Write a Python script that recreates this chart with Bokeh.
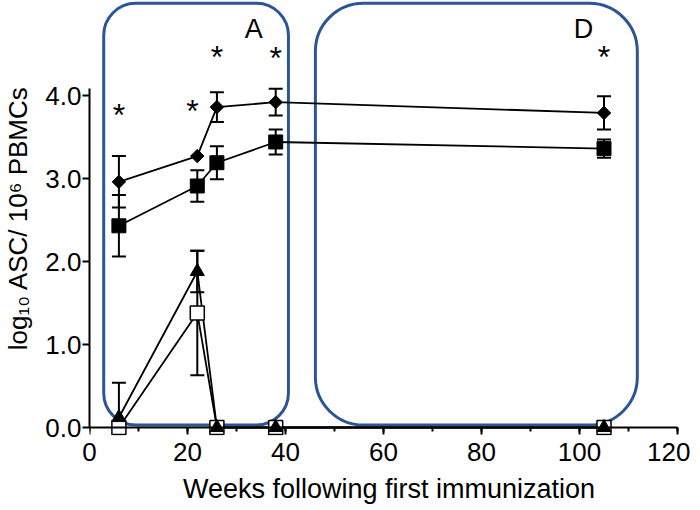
import math
from bokeh.plotting import figure
from bokeh.models import (ColumnDataSource, Whisker, TeeHead, BoxAnnotation,
                          SingleIntervalTicker, NumeralTickFormatter, Range1d,
                          LinearAxis, CustomLabelingPolicy)
from bokeh.core.properties import value
from bokeh.embed import file_html
from bokeh.resources import INLINE

# ---------------- data ----------------
weeks = [6, 22, 26, 38, 105]
diamond_y = [2.96, 3.27, 3.86, 3.92, 3.79]
diamond_err = [0.31, 0.0, 0.18, 0.16, 0.20]
fsquare_y = [2.43, 2.91, 3.19, 3.44, 3.36]
fsquare_err = [0.37, 0.19, 0.20, 0.15, 0.11]
triangle_y = [0.12, 1.88, 0.0, 0.0, 0.0]
triangle_err = [0.42, 0.25, 0.0, 0.0, 0.0]
osquare_y = [0.0, 1.38, 0.0, 0.0, 0.0]
osquare_err = [0.0, 0.75, 0.0, 0.0, 0.0]

star_x = [6, 21, 26, 38, 105]
star_y = [3.82, 3.87, 4.52, 4.51, 4.52]

panel_names = ["A", "D"]
panel_label_x = [33.5, 100.8]

FONT = "Liberation Sans"

# ---------------- figure ----------------
S = 83.0       # px per y unit
Y0 = 427       # canvas px of y = 0
FRAME_H = 435
XS = 4.9       # px per week
FRAME_W = 599

p = figure(frame_width=FRAME_W, frame_height=FRAME_H,
           output_backend="svg", toolbar_location=None,
           x_range=Range1d(0, FRAME_W / XS),
           y_range=Range1d(-(FRAME_H - Y0) / S, Y0 / S),
           min_border_left=89, min_border_right=2, min_border_top=0,
           min_border_bottom=0)
p.grid.visible = False
p.outline_line_color = None
p.background_fill_color = "white"
p.border_fill_color = "white"

# boxes
box_kw = dict(fill_alpha=0, line_color="#2C5596", line_alpha=1.0,
              line_width=3, level="underlay")
p.add_layout(BoxAnnotation(left=2.9, right=40.6, bottom=0.03, top=5.11,
                           border_radius=32, **box_kw))
p.add_layout(BoxAnnotation(left=46.1, right=111.8, bottom=0.03, top=5.11,
                           border_radius=48, **box_kw))

# error bars (only where an error exists)
def add_err(ys, errs):
    xs, lo, hi = [], [], []
    for x, y, e in zip(weeks, ys, errs):
        if e > 0:
            xs.append(x)
            lo.append(max(0.0, y - e))
            hi.append(y + e)
    src = ColumnDataSource(dict(x=xs, lower=lo, upper=hi))
    w = Whisker(source=src, base="x", lower="lower", upper="upper",
                line_width=2, line_color="black", level="underlay",
                upper_head=TeeHead(size=14, line_width=2, line_color="black"),
                lower_head=TeeHead(size=14, line_width=2, line_color="black"))
    p.add_layout(w)

for ys, es in [(diamond_y, diamond_err), (fsquare_y, fsquare_err),
               (triangle_y, triangle_err), (osquare_y, osquare_err)]:
    add_err(ys, es)

# lines
for ys in [diamond_y, fsquare_y, osquare_y, triangle_y]:
    p.line(weeks, ys, line_color="black", line_width=1.8)

# markers
p.scatter(weeks, diamond_y, marker="square", angle=math.pi / 4, size=9.5,
          fill_color="black", line_color="black")
p.scatter(weeks, fsquare_y, marker="square", size=14,
          fill_color="black", line_color="black")
p.scatter(weeks, osquare_y, marker="square", size=14,
          fill_color="white", line_color="black", line_width=1.5)
p.scatter(weeks, triangle_y, marker="triangle", size=14,
          fill_color="black", line_color="black")

# significance stars
p.text(x=star_x, y=star_y, text=["*"] * len(star_x),
       text_font=value(FONT), text_font_size="32px", text_color="black",
       text_align="center", text_baseline="alphabetic", y_offset=5)

# panel letters
p.text(x=panel_label_x, y=[4.80] * len(panel_names), text=panel_names,
       text_font=value(FONT), text_font_size="27px", text_color="black",
       text_align="center", text_baseline="alphabetic")

# ---------------- axes ----------------
# x axis line + ticks fixed at y = 0 (its labels are shown by the axis below)
xa = p.xaxis[0]
xa.fixed_location = 0
xa.bounds = (0, 120)
xa.ticker = SingleIntervalTicker(interval=20, num_minor_ticks=2)
xa.major_label_policy = CustomLabelingPolicy(code="return []")
xa.major_label_text_font_size = "0px"
xa.major_label_standoff = 0

# x tick labels + title
xl = LinearAxis(ticker=SingleIntervalTicker(interval=20, num_minor_ticks=2),
                bounds=(0, 120),
                axis_label="Weeks following first immunization")
xl.axis_line_color = None
xl.major_tick_line_color = None
xl.minor_tick_line_color = None
xl.major_tick_in = 0
xl.major_tick_out = 0
xl.minor_tick_in = 0
xl.minor_tick_out = 0
xl.major_label_standoff = 7
xl.major_label_text_font = FONT
xl.major_label_text_font_size = "26px"
xl.major_label_text_color = "black"
xl.axis_label_text_font = FONT
xl.axis_label_text_font_style = "normal"
xl.axis_label_text_font_size = "27px"
xl.axis_label_text_color = "black"
xl.axis_label_standoff = 10
p.add_layout(xl, "below")

ya = p.yaxis[0]
ya.bounds = (0, 4.08)
ya.ticker = SingleIntervalTicker(interval=1, num_minor_ticks=0)
ya.formatter = NumeralTickFormatter(format="0.0")
ya.axis_label = "log\u2081\u2080 ASC/ 10\u2076 PBMCs"

for ax in (xa, ya):
    ax.axis_line_color = "black"
    ax.axis_line_width = 2
    ax.major_tick_line_color = "black"
    ax.major_tick_line_width = 2
    ax.major_tick_in = 0
    ax.major_tick_out = 7
    ax.minor_tick_line_color = "black"
    ax.minor_tick_line_width = 2
    ax.minor_tick_in = 0
    ax.minor_tick_out = 4

ya.major_label_text_font = FONT
ya.major_label_text_font_size = "26px"
ya.major_label_text_color = "black"
ya.major_label_standoff = 1
ya.axis_label_text_font = FONT
ya.axis_label_text_font_style = "normal"
ya.axis_label_text_color = "black"
ya.axis_label_text_font_size = "26px"
ya.axis_label_standoff = 9

open("out.html", "w").write(file_html(p, INLINE))
